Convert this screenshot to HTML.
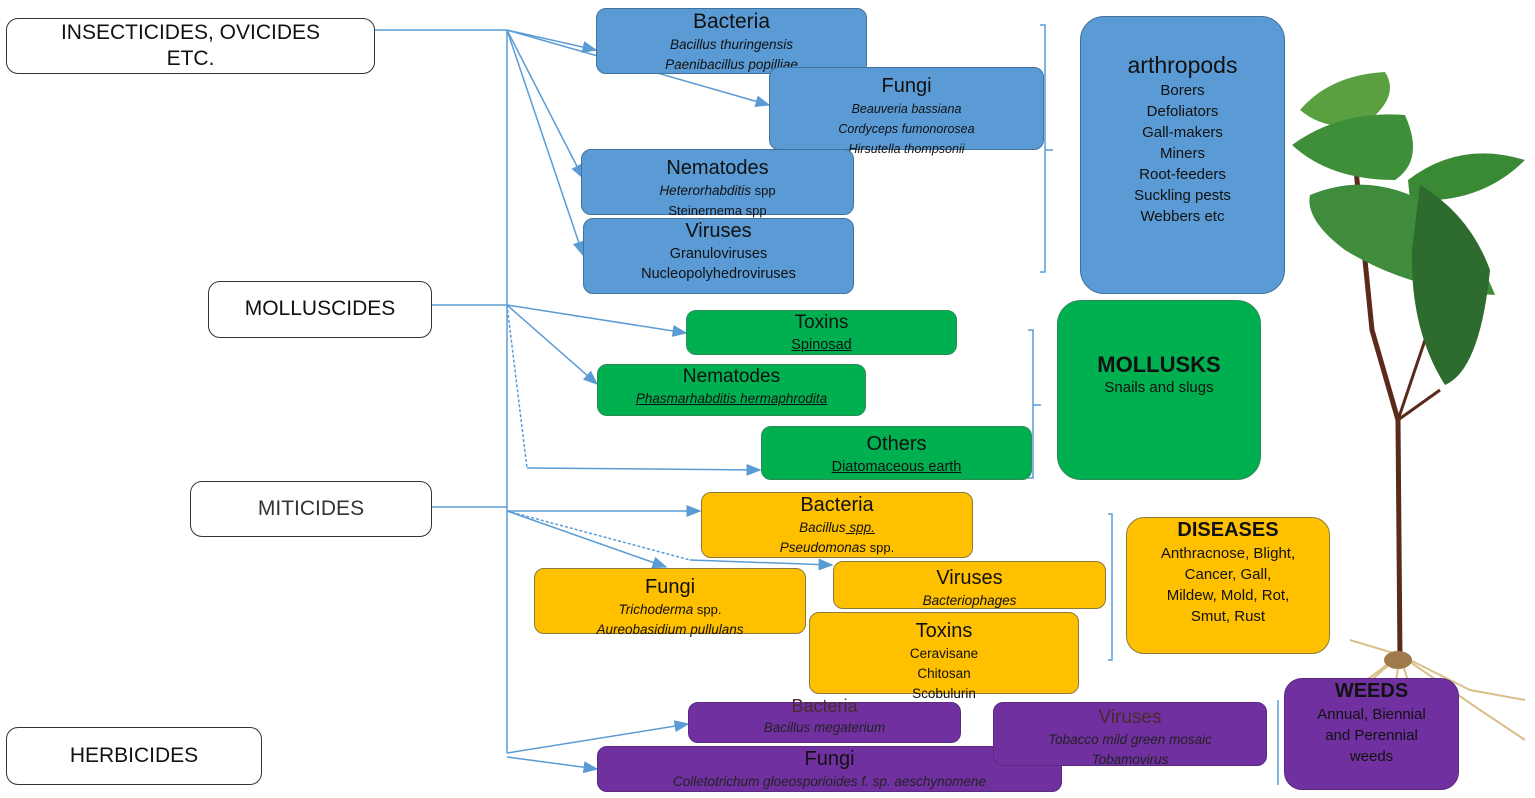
<!DOCTYPE html>
<html><head><meta charset="utf-8"><style>
body{margin:0;width:1535px;height:798px;background:#fff;position:relative;overflow:hidden;font-family:"Liberation Sans","DejaVu Sans",sans-serif;}
.b{position:absolute;box-sizing:border-box;border-radius:10px;text-align:center;color:#111;line-height:1.25;}
.l{border:1.5px solid #333;background:#fff;font-size:21px;display:flex;align-items:center;justify-content:center;border-radius:12px;}
.bl{background:#5b9bd5;border:1.5px solid #41719c;}
.gr{background:#00b050;border:1.5px solid #2e8b57;}
.ye{background:#ffc000;border:1.5px solid #8a7a3a;}
.pu{background:#7030a0;border:1.5px solid #5a2a80;}
.t{font-size:20px}
i,.s{font-size:13.5px}
.s{font-size:14.5px}
</style></head><body>
<svg width="1535" height="798" style="position:absolute;left:0;top:0">
<defs><marker id="a" markerWidth="10" markerHeight="8" refX="9" refY="4" orient="auto"><path d="M0,0L10,4L0,8z" fill="#5b9bd5"/></marker></defs>
<g stroke="#5b9bd5" stroke-width="1.5" fill="none">
<line x1="375" y1="30" x2="507" y2="30"/>
<line x1="507" y1="30" x2="507" y2="753"/>
<line x1="432" y1="305" x2="507" y2="305"/>
<line x1="432" y1="507" x2="507" y2="507"/>
<line x1="507" y1="30" x2="596" y2="50" marker-end="url(#a)"/>
<line x1="507" y1="30" x2="769" y2="105" marker-end="url(#a)"/>
<line x1="507" y1="30" x2="583" y2="178" marker-end="url(#a)"/>
<line x1="507" y1="30" x2="583" y2="255" marker-end="url(#a)"/>
<line x1="507" y1="305" x2="686" y2="333" marker-end="url(#a)"/>
<line x1="507" y1="305" x2="597" y2="384" marker-end="url(#a)"/>
<line x1="507" y1="305" x2="527" y2="468" stroke-dasharray="3,2"/>
<line x1="527" y1="468" x2="760" y2="470" marker-end="url(#a)"/>
<line x1="507" y1="511" x2="700" y2="511" marker-end="url(#a)"/>
<line x1="507" y1="511" x2="666" y2="567" marker-end="url(#a)"/>
<line x1="507" y1="511" x2="690" y2="560" stroke-dasharray="3,2"/>
<line x1="690" y1="560" x2="832" y2="565" marker-end="url(#a)"/>
<line x1="507" y1="753" x2="688" y2="724" marker-end="url(#a)"/>
<line x1="507" y1="757" x2="597" y2="769" marker-end="url(#a)"/>
<path d="M1040,25 h5 v247 h-5 M1045,150 h8"/>
<path d="M1028,330 h5 v148 h-5 M1033,405 h8"/>
<path d="M1108,514 h4 v146 h-4"/>
<path d="M1278,700 v85"/>
</g>
<!-- plant -->
<g>
<path d="M1400,660 L1398,420 L1372,330 L1355,160" stroke="#5a2a1a" stroke-width="5" fill="none"/>
<path d="M1398,420 L1425,340" stroke="#5a2a1a" stroke-width="3" fill="none"/>
<path d="M1398,420 L1440,390" stroke="#5a2a1a" stroke-width="3" fill="none"/>
<g stroke="#d9c08a" stroke-width="2" fill="none">
<path d="M1400,655 L1340,700 M1400,655 L1360,690 L1330,730 M1400,655 L1420,720 L1430,760 M1400,655 L1470,690 L1525,700 M1400,655 L1480,710 L1525,740 M1400,655 L1390,720 L1380,770 M1400,655 L1350,640"/>
</g>
<ellipse cx="1398" cy="660" rx="14" ry="9" fill="#a07a4a"/>
<path d="M1300,110 Q1330,75 1385,72 Q1400,95 1370,120 Q1330,135 1300,110Z" fill="#5aa040"/>
<path d="M1292,145 Q1340,110 1405,115 Q1425,160 1395,180 Q1330,180 1292,145Z" fill="#3f8f3a"/>
<path d="M1408,180 Q1460,140 1525,160 Q1480,205 1410,200Z" fill="#3a8a35"/>
<path d="M1310,195 Q1370,170 1430,205 Q1480,255 1495,295 Q1410,290 1345,250 Q1305,220 1310,195Z" fill="#3f8c3c"/>
<path d="M1420,185 Q1470,215 1490,270 Q1480,370 1445,385 Q1410,330 1412,250Z" fill="#2e6b2e"/>
</g>
</svg>

<div class="b l" style="left:6px;top:18px;width:369px;height:56px;">INSECTICIDES, OVICIDES<br>ETC.</div>
<div class="b l" style="left:208px;top:281px;width:224px;height:57px;">MOLLUSCIDES</div>
<div class="b l" style="left:190px;top:481px;width:242px;height:56px;color:#333;">MITICIDES</div>
<div class="b l" style="left:6px;top:727px;width:256px;height:58px;">HERBICIDES</div>

<div class="b bl" style="left:596px;top:8px;width:271px;height:66px;"><div class="t" style="font-size:21px">Bacteria</div><i>Bacillus thuringensis<br>Paenibacillus popilliae</i></div>
<div class="b bl" style="left:769px;top:67px;width:275px;height:83px;"><div class="t" style="margin-top:6px">Fungi</div><i style="font-size:12.5px">Beauveria bassiana<br>Cordyceps fumonorosea<br>Hirsutella thompsonii</i></div>
<div class="b bl" style="left:581px;top:149px;width:273px;height:66px;"><div class="t" style="margin-top:6px">Nematodes</div><i>Heterorhabditis</i><span style="font-size:13px"> spp<br>Steinernema spp</span></div>
<div class="b bl" style="left:583px;top:218px;width:271px;height:76px;"><div class="t">Viruses</div><span class="s">Granuloviruses<br>Nucleopolyhedroviruses</span></div>
<div class="b bl" style="left:1080px;top:16px;width:205px;height:278px;border-radius:24px;padding-top:34px;"><div style="font-size:23px">arthropods</div><div style="font-size:15px;line-height:21px">Borers<br>Defoliators<br>Gall-makers<br>Miners<br>Root-feeders<br>Suckling pests<br>Webbers etc</div></div>

<div class="b gr" style="left:686px;top:310px;width:271px;height:45px;"><div class="t" style="font-size:19px">Toxins</div><span class="s" style="text-decoration:underline">Spinosad</span></div>
<div class="b gr" style="left:597px;top:364px;width:269px;height:52px;"><div class="t" style="font-size:19px">Nematodes</div><i style="text-decoration:underline">Phasmarhabditis hermaphrodita</i></div>
<div class="b gr" style="left:761px;top:426px;width:271px;height:54px;"><div class="t" style="margin-top:5px">Others</div><span class="s" style="text-decoration:underline">Diatomaceous earth</span></div>
<div class="b gr" style="left:1057px;top:300px;width:204px;height:180px;border-radius:24px;padding-top:50px;"><div style="font-size:22px;font-weight:bold">MOLLUSKS</div><div style="font-size:15px">Snails and slugs</div></div>

<div class="b ye" style="left:701px;top:492px;width:272px;height:66px;"><div class="t">Bacteria</div><i>Bacillus<u> spp.</u><br>Pseudomonas</i><span style="font-size:13px"> spp.</span></div>
<div class="b ye" style="left:534px;top:568px;width:272px;height:66px;"><div class="t" style="margin-top:6px">Fungi</div><i>Trichoderma</i><span style="font-size:13px"> spp.</span><br><i>Aureobasidium pullulans</i></div>
<div class="b ye" style="left:833px;top:561px;width:273px;height:48px;"><div class="t" style="margin-top:4px">Viruses</div><i>Bacteriophages</i></div>
<div class="b ye" style="left:809px;top:612px;width:270px;height:82px;"><div class="t" style="margin-top:6px">Toxins</div><span style="font-size:13.5px;line-height:17px">Ceravisane<br>Chitosan<br>Scobulurin</span></div>
<div class="b ye" style="left:1126px;top:517px;width:204px;height:137px;border-radius:18px;"><div style="font-size:20px;font-weight:bold">DISEASES</div><div style="font-size:15px;line-height:21px">Anthracnose, Blight,<br>Cancer, Gall,<br>Mildew, Mold, Rot,<br>Smut, Rust</div></div>

<div class="b pu" style="left:688px;top:702px;width:273px;height:41px;"><div style="font-size:18px;color:#4a2a2a;margin-top:-8px">Bacteria</div><i style="color:#222">Bacillus megaterium</i></div>
<div class="b pu" style="left:597px;top:746px;width:465px;height:46px;"><div class="t">Fungi</div><i style="color:#222">Colletotrichum gloeosporioides f. sp. aeschynomene</i></div>
<div class="b pu" style="left:993px;top:702px;width:274px;height:64px;"><div style="font-size:19px;color:#4a2a2a;margin-top:3px">Viruses</div><i style="color:#222">Tobacco mild green mosaic<br>Tobamovirus</i></div>
<div class="b pu" style="left:1284px;top:678px;width:175px;height:112px;border-radius:18px;"><div style="font-size:20px;font-weight:bold">WEEDS</div><div style="font-size:15px;line-height:21px">Annual, Biennial<br>and Perennial<br>weeds</div></div>
</body></html>
